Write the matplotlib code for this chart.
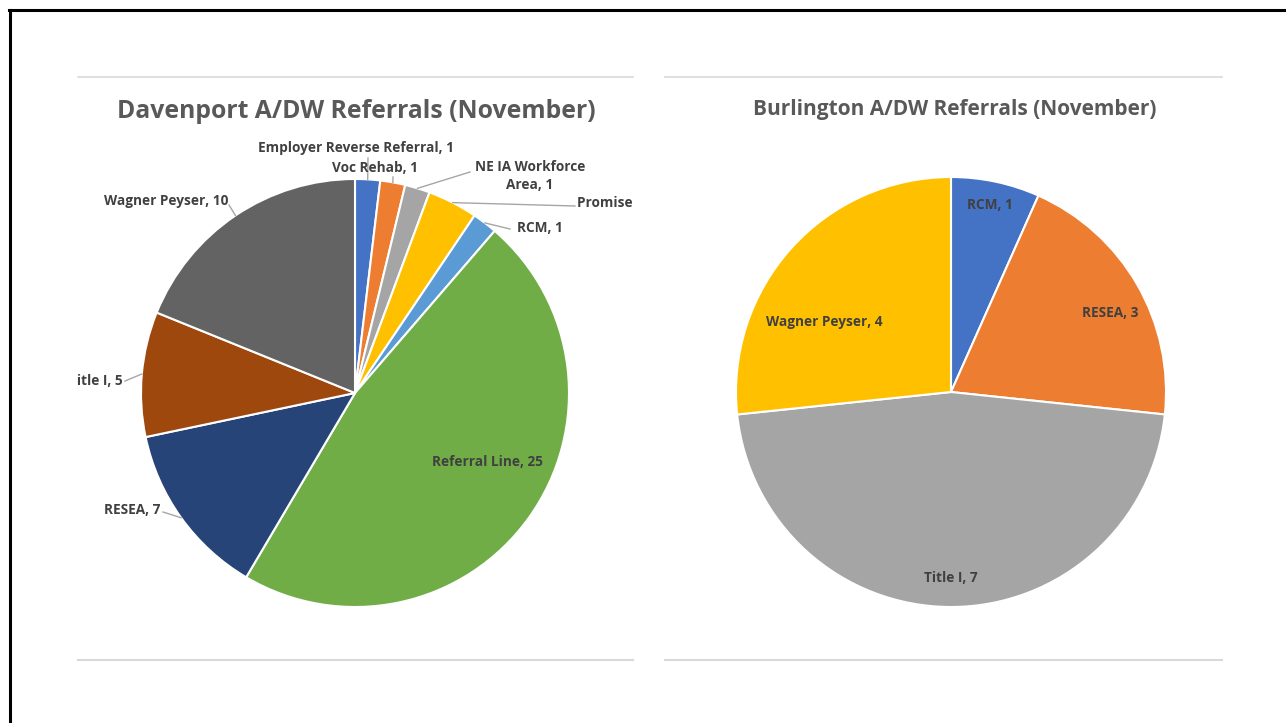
import matplotlib
matplotlib.use("Agg")
import matplotlib.pyplot as plt
import numpy as np

# Davenport referrals by source
dav_names = ["Employer Reverse Referral", "Voc Rehab", "NE IA Workforce\nArea",
             "Promise Jobs", "RCM", "Referral Line", "RESEA", "Title I", "Wagner Peyser"]
dav_values = [1, 1, 1, 2, 1, 25, 7, 5, 10]
dav_colors = ["#4472C4", "#ED7D31", "#A5A5A5", "#FFC000", "#5B9BD5",
              "#70AD47", "#264478", "#9E480E", "#636363"]

# Burlington referrals by source
bur_names = ["RCM", "RESEA", "Title I", "Wagner Peyser"]
bur_values = [1, 3, 7, 4]
bur_colors = ["#4472C4", "#ED7D31", "#A5A5A5", "#FFC000"]

W, H = 1286, 723
plt.rcParams["font.family"] = ["Open Sans", "DejaVu Sans"]

fig = plt.figure(figsize=(W / 100, H / 100), dpi=100)
fig.patch.set_facecolor("white")

TXT = "#404040"
LEAD = "#A6A6A6"
LBL = 9.8


def panel(x0, x1, y0, y1):
    # axes whose data units are figure pixels (y measured upward)
    ax = fig.add_axes([x0 / W, 1 - y1 / H, (x1 - x0) / W, (y1 - y0) / H])
    ax.set_xlim(x0, x1)
    ax.set_ylim(H - y1, H - y0)
    return ax


def wedge_point(cx, cy, r, values, i):
    tot = sum(values)
    frac = (sum(values[:i]) + values[i] / 2) / tot
    ang = np.deg2rad(90 - 360 * frac)
    return cx + r * np.cos(ang), cy + r * np.sin(ang)


def finish(ax, x0, x1, y0, y1):
    ax.set_xlim(x0, x1)
    ax.set_ylim(H - y1, H - y0)
    ax.set_aspect("auto")
    ax.axis("off")


# ---- Davenport ----
ax1 = panel(77, 634, 60, 680)
c1 = (355, H - 393)
r1 = 214
ax1.pie(dav_values, colors=dav_colors, startangle=90, counterclock=False,
        center=c1, radius=r1, frame=True,
        wedgeprops=dict(edgecolor="white", linewidth=1.5))
finish(ax1, 77, 634, 60, 680)
ax1.plot([78, 633], [H - 77, H - 77], color="#D9D9D9", lw=1.2, clip_on=False)
ax1.plot([78, 633], [H - 660, H - 660], color="#D9D9D9", lw=1.5, clip_on=False)
ax1.text(356, H - 112, "Davenport A/DW Referrals (November)", ha="center", va="center",
         fontsize=17.8, fontweight="bold", color="#595959")

# label anchor, leader end, alignment
dav_layout = [
    ((356, 148), (368, 158), "center"),
    ((375, 168), (393, 177), "center"),
    ((530, 176), (470, 172), "center"),
    ((577, 203), (575, 206), "left"),
    ((517, 228), (510, 229), "left"),
    ((487, 462), None, "center"),
    ((160, 510), (163, 512), "right"),
    ((123, 381), (125, 381), "right"),
    ((228, 201), (229, 205), "right"),
]
for i, (name, v) in enumerate(zip(dav_names, dav_values)):
    (lx, ly), lead, ha = dav_layout[i]
    if lead is not None:
        px, py = wedge_point(c1[0], c1[1], r1, dav_values, i)
        ax1.plot([px, lead[0]], [py, H - lead[1]], color=LEAD, lw=1)
    ax1.text(lx, H - ly, f"{name}, {v}", ha=ha, va="center", fontsize=LBL,
             fontweight="bold", color=TXT, clip_on=True, linespacing=1.35)

# ---- Burlington ----
ax2 = panel(665, 1222, 60, 680)
c2 = (951, H - 392)
r2 = 215
ax2.pie(bur_values, colors=bur_colors, startangle=90, counterclock=False,
        center=c2, radius=r2, frame=True,
        wedgeprops=dict(edgecolor="white", linewidth=1.5))
finish(ax2, 665, 1222, 60, 680)
ax2.plot([665, 1222], [H - 77, H - 77], color="#D9D9D9", lw=1.2, clip_on=False)
ax2.plot([665, 1222], [H - 660, H - 660], color="#D9D9D9", lw=1.5, clip_on=False)
ax2.text(955, H - 109, "Burlington A/DW Referrals (November)", ha="center", va="center",
         fontsize=15.0, fontweight="bold", color="#595959")

bur_pos = [(990, 205), (1110, 313), (951, 578), (824, 322)]
for (name, v), (lx, ly) in zip(zip(bur_names, bur_values), bur_pos):
    ax2.text(lx, H - ly, f"{name}, {v}", ha="center", va="center", fontsize=LBL,
             fontweight="bold", color=TXT)

# outer frame (top and left edges)
fig.add_artist(plt.Line2D([9 / W, 1], [1 - 10 / H, 1 - 10 / H], color="black", lw=2.2))
fig.add_artist(plt.Line2D([10 / W, 10 / W], [1 - 10 / H, 0], color="black", lw=2.2))

fig.savefig("out.png", dpi=100)
